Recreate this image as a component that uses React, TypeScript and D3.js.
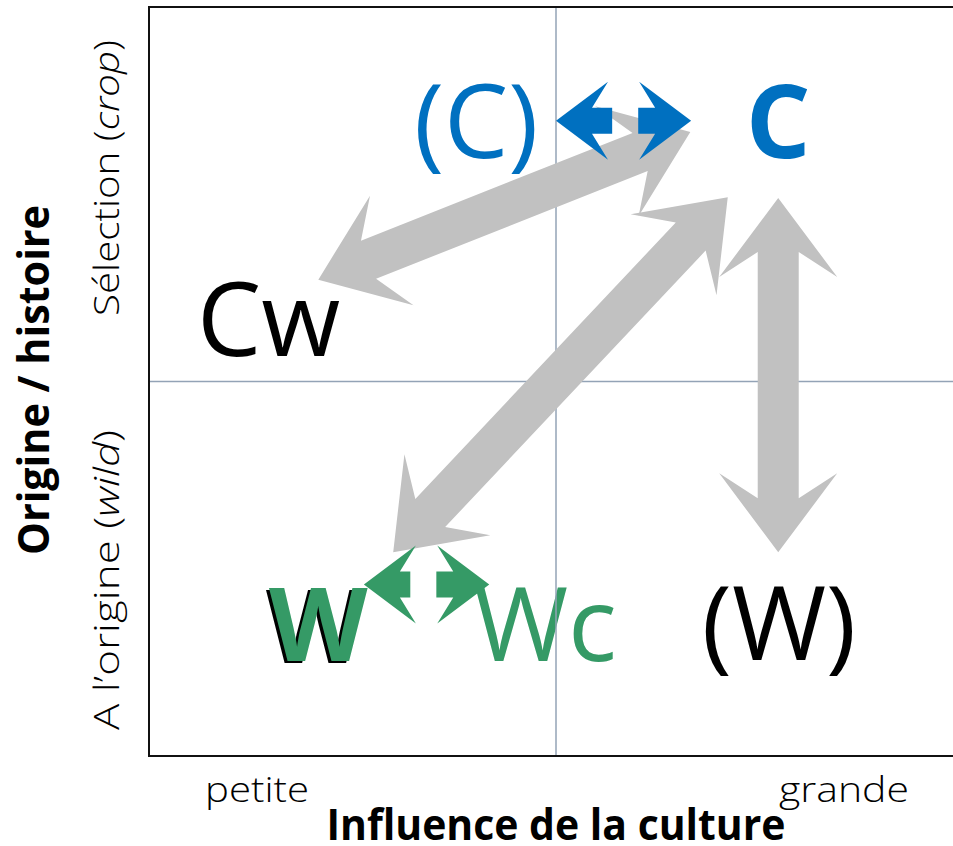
import React from "react";
import { scaleLinear } from "d3";

// positions in the plane: x = influence de la culture, y = origine / histoire (0..1)
const nodeLabels = ["(C)", "C", "Cw", "W", "Wc", "(W)"];
const nodeInfluence = [0.402, 0.773, 0.147, 0.208, 0.487, 0.774];
const nodeOrigin = [0.798, 0.798, 0.534, 0.127, 0.127, 0.128];
const nodeColor = ["#0070c0", "#0070c0", "#000000", "#359a66", "#359a66", "#000000"];
const nodeBold = [false, true, false, true, false, false];

// big grey double arrows (from, to)
const grayFrom = [[0.773, 0.745], [0.665, 0.833], [0.711, 0.746]];
const grayTo = [[0.773, 0.272], [0.208, 0.636], [0.3, 0.272]];

// small split arrows (tail, tip)
const blueTail = [[0.569, 0.848], [0.601, 0.848]];
const blueTip = [[0.5, 0.848], [0.666, 0.848]];
const greenTail = [[0.321, 0.229], [0.353, 0.229]];
const greenTip = [[0.264, 0.229], [0.418, 0.229]];

const xTicks = ["petite", "grande"];

const W = 953;
const H = 846;
const box = { left: 149, top: 7, right: 963, bottom: 756 };
const font = "'Open Sans', 'Noto Sans', sans-serif";

const bigHead = { L: 79, H: 59, J: 54, s: 20.5 };
const smallHead = { L: 52, H: 39, J: 36, s: 13 };

type Pt = [number, number];

function arrowPoints(p: Pt, q: Pt, g: typeof bigHead, both: boolean): Pt[] {
  const dx = q[0] - p[0];
  const dy = q[1] - p[1];
  const len = Math.hypot(dx, dy);
  const ux = dx / len, uy = dy / len;
  const nx = -uy, ny = ux;
  const at = (b: Pt, along: number, side: number): Pt => [
    b[0] + ux * along + nx * side,
    b[1] + uy * along + ny * side,
  ];
  const pts: Pt[] = [q, at(q, -g.L, g.H), at(q, -g.J, g.s)];
  if (both) {
    pts.push(at(p, g.J, g.s), at(p, g.L, g.H), p, at(p, g.L, -g.H), at(p, g.J, -g.s));
  } else {
    pts.push(at(p, 0, g.s), at(p, 0, -g.s));
  }
  pts.push(at(q, -g.J, -g.s), at(q, -g.L, -g.H));
  return pts;
}

export default function App() {
  const x = scaleLinear().domain([0, 1]).range([box.left, box.right]);
  const y = scaleLinear().domain([0, 1]).range([box.bottom, box.top]);
  const px = (d: number[]): Pt => [x(d[0]), y(d[1])];
  const poly = (pts: Pt[]) => pts.map((d) => d.join(",")).join(" ");

  return (
    <svg
      width={W}
      height={H}
      style={{ position: "absolute", left: 0, top: 0, background: "#fff" }}
      fontFamily={font}
    >
      {/* node labels */}
      {nodeLabels.map((t, i) => (
        <g key={t}>
          {t === "W" && (
            <text
              x={x(nodeInfluence[i]) - 3}
              y={y(nodeOrigin[i]) + 2}
              textAnchor="middle"
              fontSize={102}
              fontWeight={700}
              fill="#000"
            >
              {t}
            </text>
          )}
          <text
            x={x(nodeInfluence[i])}
            y={y(nodeOrigin[i])}
            textAnchor="middle"
            fontSize={102}
            fontWeight={nodeBold[i] ? 700 : 400}
            fill={nodeColor[i]}
          >
            {t}
          </text>
        </g>
      ))}

      {/* quadrant lines */}
      <line x1={x(0.5)} x2={x(0.5)} y1={box.top} y2={box.bottom} stroke="#93a3b6" strokeWidth={1.5} />
      <line x1={box.left} x2={box.right} y1={y(0.5)} y2={y(0.5)} stroke="#93a3b6" strokeWidth={1.5} />

      {/* frame */}
      <path
        d={`M${box.right},${box.top}H${box.left}V${box.bottom}H${box.right}`}
        fill="none"
        stroke="#111"
        strokeWidth={2}
      />

      {/* grey arrows */}
      {grayFrom.map((f, i) => (
        <polygon key={i} points={poly(arrowPoints(px(f), px(grayTo[i]), bigHead, true))} fill="#c1c1c1" />
      ))}

      {/* blue and green arrows */}
      {blueTail.map((f, i) => (
        <polygon key={"b" + i} points={poly(arrowPoints(px(f), px(blueTip[i]), smallHead, false))} fill="#0070c0" />
      ))}
      {greenTail.map((f, i) => (
        <polygon key={"g" + i} points={poly(arrowPoints(px(f), px(greenTip[i]), smallHead, false))} fill="#359a66" />
      ))}

      {/* x axis */}
      <text x={205} y={802} fontSize={35} fontWeight={300} textLength={104} lengthAdjust="spacingAndGlyphs">
        {xTicks[0]}
      </text>
      <text x={779} y={802} fontSize={35} fontWeight={300} textLength={130} lengthAdjust="spacingAndGlyphs">
        {xTicks[1]}
      </text>
      <text x={556} y={840} textAnchor="middle" fontSize={43} fontWeight={700} textLength={459} lengthAdjust="spacingAndGlyphs">
        Influence de la culture
      </text>

      {/* y axis */}
      <text
        transform="translate(49,380) rotate(-90)"
        textAnchor="middle"
        fontSize={43}
        fontWeight={700}
        textLength={350}
        lengthAdjust="spacingAndGlyphs"
      >
        Origine / histoire
      </text>
      <text
        transform="translate(119,178) rotate(-90)"
        textAnchor="middle"
        fontSize={35}
        fontWeight={300}
        textLength={276}
        lengthAdjust="spacingAndGlyphs"
      >
        Sélection (<tspan fontStyle="italic">crop</tspan>)
      </text>
      <text
        transform="translate(119,580) rotate(-90)"
        textAnchor="middle"
        fontSize={35}
        fontWeight={300}
        textLength={300}
        lengthAdjust="spacingAndGlyphs"
      >
        A l’origine (<tspan fontStyle="italic">wild</tspan>)
      </text>
    </svg>
  );
}
